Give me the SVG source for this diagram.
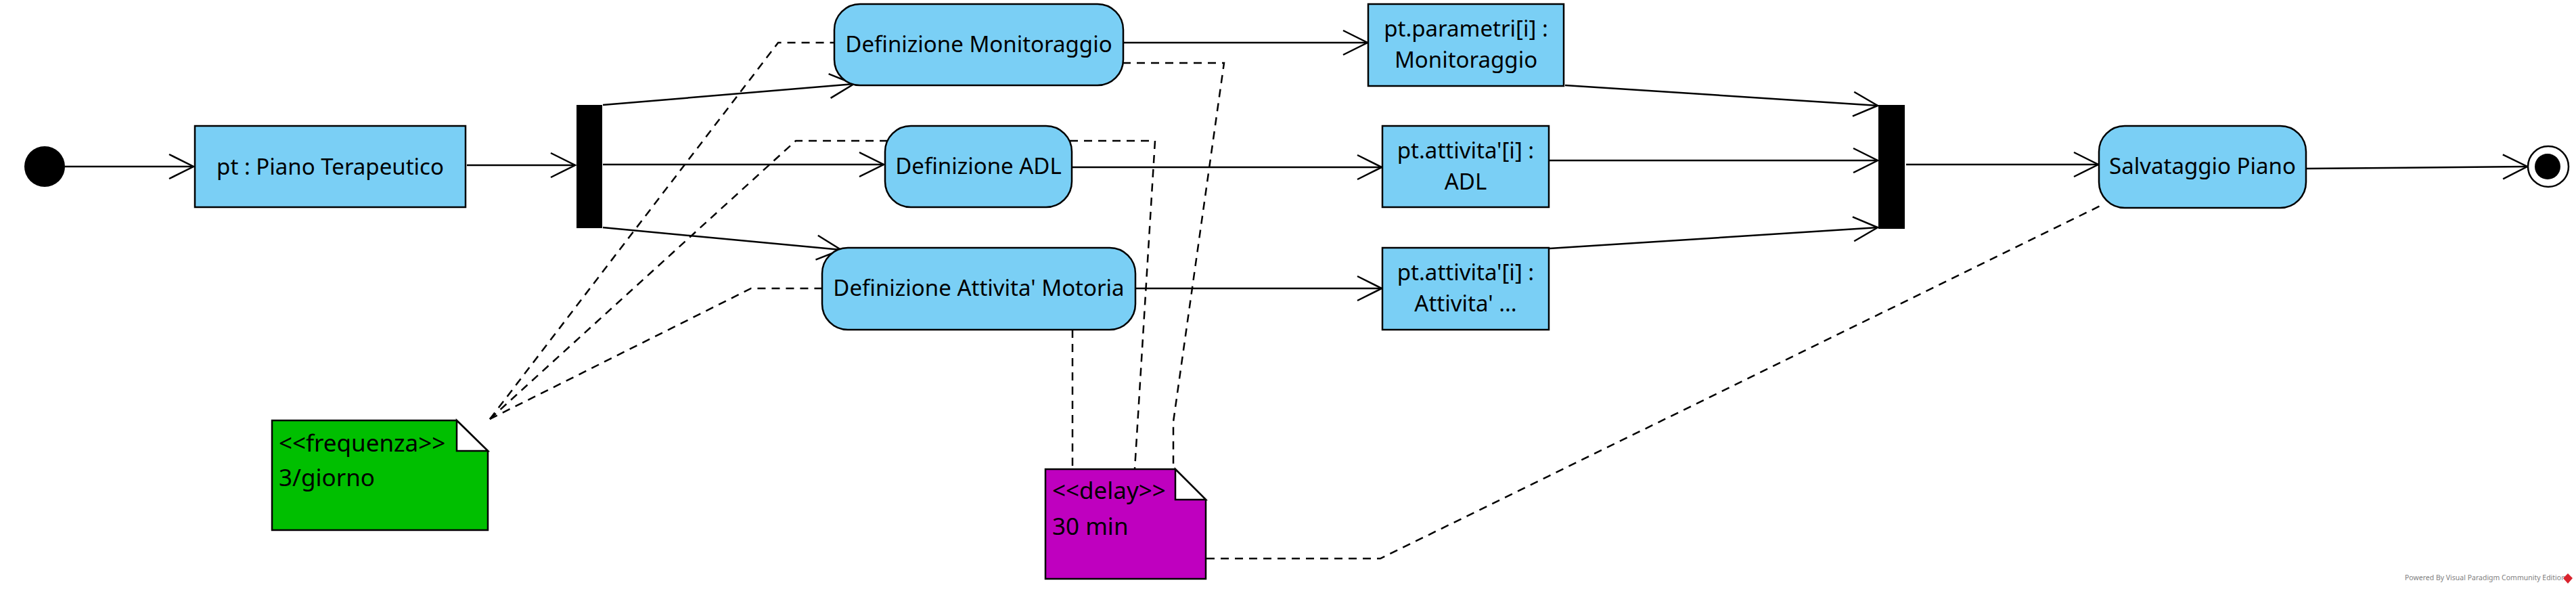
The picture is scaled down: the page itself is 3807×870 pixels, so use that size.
<svg xmlns="http://www.w3.org/2000/svg" width="3807" height="870" viewBox="0 0 3807 870">
<style>
  .act { fill: #7ACFF5; stroke: #000; stroke-width: 2.5; }
  .lbl { font-family: "Noto Sans", "Open Sans", sans-serif; font-size: 33px; fill: #000; text-anchor: middle; }
  .ntxt { font-family: "Noto Sans", "Open Sans", sans-serif; font-size: 35px; fill: #000; }
  .flow { fill: none; stroke: #000; stroke-width: 2.5; marker-end: url(#arr); }
  .dash { fill: none; stroke: #000; stroke-width: 2.5; stroke-dasharray: 12 9; }
  .bar { fill: #000; }
  .note { stroke: #000; stroke-width: 2.5; stroke-linejoin: miter; }
  .fold { fill: #fff; stroke: #000; stroke-width: 2.5; }
</style>
<defs>
  <marker id="arr" markerUnits="userSpaceOnUse" markerWidth="50" markerHeight="50" viewBox="-40 -25 50 50" refX="0" refY="0" orient="auto">
    <path d="M -36 -18 L 0 0 L -36 18" fill="none" stroke="#000" stroke-width="2.5"/>
  </marker>
</defs>
<rect x="0" y="0" width="3807" height="870" fill="#fff"/>

<g id="connectors">
  <line class="flow" x1="96" y1="246" x2="286" y2="246"/>
  <line class="flow" x1="690" y1="244" x2="850" y2="244"/>
  <line class="flow" x1="891" y1="155" x2="1262" y2="124"/>
  <line class="flow" x1="891" y1="243" x2="1306" y2="243"/>
  <line class="flow" x1="891" y1="336" x2="1243" y2="369"/>
  <line class="flow" x1="1661" y1="63" x2="2021" y2="63"/>
  <line class="flow" x1="1585" y1="247" x2="2042" y2="247"/>
  <line class="flow" x1="1679" y1="426" x2="2042" y2="426"/>
  <line class="flow" x1="2313" y1="126" x2="2775" y2="156"/>
  <line class="flow" x1="2290" y1="237" x2="2775" y2="237"/>
  <line class="flow" x1="2290" y1="367" x2="2775" y2="336"/>
  <line class="flow" x1="2817" y1="243" x2="3101" y2="243"/>
  <line class="flow" x1="3409" y1="249" x2="3735" y2="246"/>

  <polyline class="dash" points="724,619 1150,63 1233,63"/>
  <polyline class="dash" points="724,619 1176,208 1311,208"/>
  <polyline class="dash" points="724,619 1110,426 1215,426"/>
  <polyline class="dash" points="1581,208 1707,208 1677,693"/>
  <polyline class="dash" points="1659,93 1809,93 1734,623 1734,693"/>
  <polyline class="dash" points="1585,487 1585,693"/>
  <polyline class="dash" points="1783,825 2040,825 3106,303"/>
</g>

<g id="initial">
  <circle cx="66" cy="246" r="30" fill="#000"/>
</g>

<g id="piano">
  <rect class="act" x="288" y="186" width="400" height="120"/>
  <text class="lbl" x="488" y="258">pt : Piano Terapeutico</text>
</g>

<g id="fork">
  <rect class="bar" x="852" y="155" width="38" height="182"/>
</g>

<g id="def-monitoraggio">
  <rect class="act" x="1233" y="6" width="427" height="120" rx="38" ry="38"/>
  <text class="lbl" x="1446.5" y="77">Definizione Monitoraggio</text>
</g>

<g id="def-adl">
  <rect class="act" x="1308" y="186" width="276" height="120" rx="38" ry="38"/>
  <text class="lbl" x="1446" y="257">Definizione ADL</text>
</g>

<g id="def-motoria">
  <rect class="act" x="1215" y="366" width="463" height="121" rx="38" ry="38"/>
  <text class="lbl" x="1446.5" y="437">Definizione Attivita' Motoria</text>
</g>

<g id="obj-parametri">
  <rect class="act" x="2022" y="6" width="289" height="121"/>
  <text class="lbl" x="2166.5" y="54">pt.parametri[i] :</text>
  <text class="lbl" x="2166.5" y="100">Monitoraggio</text>
</g>

<g id="obj-adl">
  <rect class="act" x="2043" y="186" width="246" height="120"/>
  <text class="lbl" x="2166" y="234">pt.attivita'[i] :</text>
  <text class="lbl" x="2166" y="280">ADL</text>
</g>

<g id="obj-motoria">
  <rect class="act" x="2043" y="366" width="246" height="121"/>
  <text class="lbl" x="2166" y="414">pt.attivita'[i] :</text>
  <text class="lbl" x="2166" y="460">Attivita' ...</text>
</g>

<g id="join">
  <rect class="bar" x="2776" y="155" width="39" height="183"/>
</g>

<g id="salvataggio">
  <rect class="act" x="3102" y="186" width="306" height="121" rx="38" ry="38"/>
  <text class="lbl" x="3255" y="257">Salvataggio Piano</text>
</g>

<g id="final">
  <circle cx="3766" cy="246" r="30" fill="#fff" stroke="#000" stroke-width="2.5"/>
  <circle cx="3765" cy="246" r="19" fill="#000"/>
</g>

<g id="note-frequenza">
  <path class="note" fill="#00BF00" d="M402,621 L675,621 L721,666 L721,783 L402,783 Z"/>
  <path class="fold" d="M675,621 L675,666 L721,666 Z"/>
  <text class="ntxt" x="412" y="667">&lt;&lt;frequenza&gt;&gt;</text>
  <text class="ntxt" x="412" y="718">3/giorno</text>
</g>

<g id="note-delay">
  <path class="note" fill="#BF00BF" d="M1545,693 L1737,693 L1782,738 L1782,855 L1545,855 Z"/>
  <path class="fold" d="M1737,693 L1737,738 L1782,738 Z"/>
  <text class="ntxt" x="1555" y="737">&lt;&lt;delay&gt;&gt;</text>
  <text class="ntxt" x="1555" y="790">30 min</text>
</g>

<g id="watermark">
  <text x="3554" y="857" font-family="'Noto Sans', sans-serif" font-size="10.5" fill="#808080">Powered By  Visual Paradigm Community Edition</text>
  <path d="M3795,847 L3802,854 L3795,862 L3788,854 Z" fill="#D9232D"/>
</g>
</svg>
